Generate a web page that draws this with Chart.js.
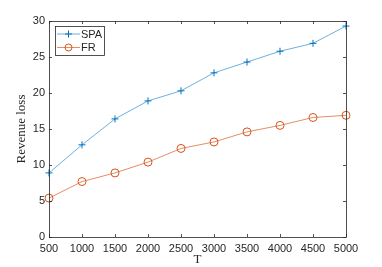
<!DOCTYPE html>
<html lang="en">
<head>
<meta charset="UTF-8">
<title>Revenue loss</title>
<script src="https://cdn.jsdelivr.net/npm/chart.js"></script>
<style>
  html, body { margin: 0; padding: 0; background: #fff; }
  #chart { display: block; }
</style>
</head>
<body>
<canvas id="chart" width="382" height="267"></canvas>
<script>
const T = [500, 1000, 1500, 2000, 2500, 3000, 3500, 4000, 4500, 5000];
const spa = [8.9, 12.8, 16.4, 18.9, 20.3, 22.8, 24.3, 25.8, 26.9, 29.3];
const fr = [5.4, 7.7, 8.9, 10.4, 12.3, 13.2, 14.6, 15.5, 16.6, 16.9];
const seriesNames = ['SPA', 'FR'];

const axisColor = '#262626';
const tickFont = { family: '"Liberation Sans", Arial, sans-serif', size: 11 };
const titleFont = { family: '"Liberation Serif", "Times New Roman", serif', size: 13 };

function pts(ys) {
  return T.map((t, i) => ({ x: t, y: ys[i] }));
}

// MATLAB-style box with inward ticks on all four sides
const boxPlugin = {
  id: 'box',
  afterDatasetsDraw(chart) {
    const { ctx, chartArea: a, scales } = chart;
    ctx.save();
    ctx.strokeStyle = axisColor;
    ctx.lineWidth = 0.8;
    ctx.strokeRect(a.left + 0.5, a.top + 0.5, a.right - a.left, a.bottom - a.top);
    ctx.beginPath();
    scales.x.ticks.forEach(t => {
      const px = Math.round(scales.x.getPixelForValue(t.value)) + 0.5;
      ctx.moveTo(px, a.bottom); ctx.lineTo(px, a.bottom - 3);
      ctx.moveTo(px, a.top); ctx.lineTo(px, a.top + 3);
    });
    scales.y.ticks.forEach(t => {
      const py = Math.round(scales.y.getPixelForValue(t.value)) + 0.5;
      ctx.moveTo(a.left, py); ctx.lineTo(a.left + 3, py);
      ctx.moveTo(a.right, py); ctx.lineTo(a.right - 3, py);
    });
    ctx.stroke();
    ctx.restore();
  },
  afterDraw(chart) {
    // legend box in the top-left corner of the plot
    const { ctx, chartArea: a } = chart;
    const x0 = a.left + 6, y0 = a.top + 5, w = 49, h = 29;
    ctx.save();
    ctx.fillStyle = '#fff';
    ctx.fillRect(x0, y0, w, h);
    ctx.strokeStyle = axisColor;
    ctx.lineWidth = 0.8;
    ctx.strokeRect(x0 + 0.5, y0 + 0.5, w, h);
    chart.data.datasets.forEach((ds, i) => {
      const cy = y0 + 8 + i * 13.5;
      ctx.strokeStyle = ds.borderColor;
      ctx.lineWidth = 0.8;
      ctx.beginPath();
      ctx.moveTo(x0 + 2, cy); ctx.lineTo(x0 + 25, cy);
      ctx.stroke();
      const mx = x0 + 13.5;
      ctx.strokeStyle = ds.pointBorderColor;
      ctx.lineWidth = 1;
      ctx.beginPath();
      if (ds.pointStyle === 'cross') {
        ctx.moveTo(mx - 3.5, cy); ctx.lineTo(mx + 3.5, cy);
        ctx.moveTo(mx, cy - 3.5); ctx.lineTo(mx, cy + 3.5);
        ctx.stroke();
      } else {
        ctx.arc(mx, cy, 3.5, 0, Math.PI * 2);
        ctx.stroke();
      }
      ctx.fillStyle = axisColor;
      ctx.font = '11px "Liberation Sans", Arial, sans-serif';
      ctx.textBaseline = 'middle';
      ctx.fillText(ds.label, x0 + 26, cy + 0.5);
    });
    ctx.restore();
  }
};

new Chart(document.getElementById('chart'), {
  type: 'line',
  data: {
    datasets: [
      {
        label: seriesNames[0],
        data: pts(spa),
        borderColor: '#4a9ad6',
        borderWidth: 0.8,
        pointStyle: 'cross',
        pointRadius: 3.5,
        pointBorderWidth: 1,
        pointBorderColor: '#0072BD',
        tension: 0,
        clip: false
      },
      {
        label: seriesNames[1],
        data: pts(fr),
        borderColor: '#e0703f',
        borderWidth: 0.8,
        pointStyle: 'circle',
        pointRadius: 4,
        pointBorderWidth: 1,
        pointBorderColor: '#D95319',
        pointBackgroundColor: 'rgba(0,0,0,0)',
        tension: 0,
        clip: false
      }
    ]
  },
  options: {
    responsive: false,
    animation: false,
    events: [],
    layout: { padding: { top: 21, right: 36, left: 0, bottom: 0 } },
    plugins: { legend: { display: false }, tooltip: { enabled: false } },
    scales: {
      x: {
        type: 'linear',
        min: 500,
        max: 5000,
        afterFit: s => { s.height = 30; },
        grid: { display: false, drawTicks: false },
        border: { display: false },
        ticks: { stepSize: 500, color: axisColor, font: tickFont, padding: 5, maxRotation: 0, autoSkip: false,
                 callback: v => String(v) },
        title: { display: true, text: 'T', color: axisColor, font: titleFont, padding: { top: 0, bottom: 0 } }
      },
      y: {
        min: 0,
        max: 30,
        afterFit: s => { s.width = 49; },
        grid: { display: false, drawTicks: false },
        border: { display: false },
        ticks: { stepSize: 5, color: axisColor, font: tickFont, padding: 4 },
        title: { display: true, text: 'Revenue loss', color: axisColor, font: titleFont, padding: { top: 14, bottom: 0 } }
      }
    }
  },
  plugins: [boxPlugin]
});
</script>
</body>
</html>
